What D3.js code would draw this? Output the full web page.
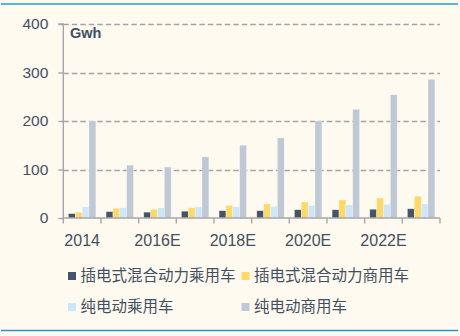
<!DOCTYPE html>
<html>
<head>
<meta charset="utf-8">
<script src="https://cdn.jsdelivr.net/npm/d3@7"></script>
<style>
  html, body { margin: 0; padding: 0; background: #fffaef; }
  svg { display: block; }
  text { font-family: "Microsoft YaHei", "Noto Sans CJK SC", "Noto Sans", sans-serif; }
</style>
</head>
<body>
<svg id="chart" width="460" height="336"></svg>
<script>
// Battery demand by vehicle type (Gwh)
const years = ["2014", "2015E", "2016E", "2017E", "2018E", "2019E", "2020E", "2021E", "2022E", "2023E"];
const shownYearLabels = ["2014", "2016E", "2018E", "2020E", "2022E"];
const seriesNames = ["插电式混合动力乘用车", "插电式混合动力商用车", "纯电动乘用车", "纯电动商用车"];
const phevPassenger = [9, 13, 12, 14, 15, 15, 17, 17, 18, 19];
const phevCommercial = [12, 20, 18, 21, 26, 29, 33, 37, 41, 45];
const evPassenger = [23, 21, 21, 23, 23, 24, 26, 27, 28, 29];
const evCommercial = [200, 109, 105, 126, 150, 165, 200, 224, 254, 286];
const yTicks = [0, 100, 200, 300, 400];
const unitLabel = "Gwh";

const seriesValues = [phevPassenger, phevCommercial, evPassenger, evCommercial];
const colors = ["#44546a", "#ffd966", "#cde6fb", "#bfc8d5"];
const textColor = "#434f63";

const svg = d3.select("#chart");

// frame rules at top and bottom
svg.append("line").attr("x1", 1).attr("x2", 458).attr("y1", 4).attr("y2", 4)
  .attr("stroke", "#19a0dc").attr("stroke-width", 1.3);
svg.append("line").attr("x1", 1).attr("x2", 458).attr("y1", 330.5).attr("y2", 330.5)
  .attr("stroke", "#2a93cc").attr("stroke-width", 1.3);

const plotL = 63.3, plotR = 440, plotT = 24, plotB = 218;

const x = d3.scaleBand().domain(years).range([plotL, plotR]).paddingInner(0).paddingOuter(0);
const xInner = d3.scaleBand().domain(d3.range(seriesNames.length)).range([0, x.bandwidth()]).paddingOuter(0.75).paddingInner(0);
const y = d3.scaleLinear().domain([0, 400]).range([plotB, plotT]);

// dashed gridlines
svg.append("g").selectAll("line")
  .data(yTicks.filter(d => d > 0))
  .join("line")
  .attr("x1", plotL).attr("x2", plotR)
  .attr("y1", d => Math.round(y(d)) + 0.5).attr("y2", d => Math.round(y(d)) + 0.5)
  .attr("stroke", "#a3a3a8").attr("stroke-width", 1.4)
  .attr("stroke-dasharray", "5.5,3");

// bars
const groups = svg.append("g").selectAll("g")
  .data(years)
  .join("g")
  .attr("transform", d => `translate(${x(d)},0)`);

groups.selectAll("rect")
  .data((d, i) => seriesValues.map((vals, s) => ({ s, v: vals[i] })))
  .join("rect")
  .attr("x", d => xInner(d.s))
  .attr("width", xInner.bandwidth())
  .attr("y", d => y(d.v))
  .attr("height", d => y(0) - y(d.v))
  .attr("fill", d => colors[d.s])
  .attr("stroke", "#ffffff").attr("stroke-opacity", 0.45).attr("stroke-width", 0.6);

// y axis
const yAxis = d3.axisLeft(y).tickValues(yTicks).tickSize(5).tickPadding(10);
const gy = svg.append("g").attr("transform", `translate(${plotL},0)`).call(yAxis);
gy.select(".domain").attr("stroke", "#a6a6a6").attr("stroke-width", 1.4)
  .attr("d", `M-5,${plotT}H0V${plotB}`);
gy.selectAll(".tick line").attr("stroke", "#a6a6a6").attr("stroke-width", 1.4);
gy.selectAll(".tick text").attr("fill", textColor).style("font-size", "15.5px")
  .style("font-family", "'Liberation Sans', 'Noto Sans', sans-serif");

// x axis with ticks on band boundaries
const gx = svg.append("g").attr("transform", `translate(0,${plotB})`);
gx.append("line").attr("x1", plotL).attr("x2", plotR).attr("y1", 0).attr("y2", 0)
  .attr("stroke", "#a6a6a6").attr("stroke-width", 1.4);
gx.selectAll(".bt").data(years.concat(["end"]))
  .join("line")
  .attr("class", "bt")
  .attr("x1", (d, i) => plotL + i * x.step()).attr("x2", (d, i) => plotL + i * x.step())
  .attr("y1", 0).attr("y2", 5.5)
  .attr("stroke", "#a6a6a6").attr("stroke-width", 1.4);
gx.selectAll(".lbl").data(shownYearLabels)
  .join("text")
  .attr("class", "lbl")
  .attr("x", d => x(d) + x.bandwidth() / 2)
  .attr("y", 28)
  .attr("text-anchor", "middle")
  .attr("fill", textColor)
  .style("font-size", "16px")
  .style("font-family", "'Liberation Sans', 'Noto Sans', sans-serif")
  .text(d => d);

// unit label
svg.append("text").attr("x", 70).attr("y", 38)
  .attr("fill", textColor).style("font-size", "14.5px").style("font-weight", "bold")
  .style("font-family", "'Liberation Sans', 'Noto Sans', sans-serif")
  .text(unitLabel);

// legend
const legendPos = [[68, 276], [241.5, 276], [68, 307], [241.5, 307]];
const legend = svg.append("g").selectAll("g")
  .data(seriesNames)
  .join("g")
  .attr("transform", (d, i) => `translate(${legendPos[i][0]},${legendPos[i][1]})`);
legend.append("rect").attr("x", 0).attr("y", -4).attr("width", 8).attr("height", 8)
  .attr("fill", (d, i) => colors[i]);
legend.append("text").attr("x", 12.5).attr("y", 0).attr("dy", "0.35em")
  .attr("fill", textColor).style("font-size", "15.5px")
  .style("font-family", "'Noto Sans CJK SC', sans-serif")
  .text(d => d);
</script>
</body>
</html>
